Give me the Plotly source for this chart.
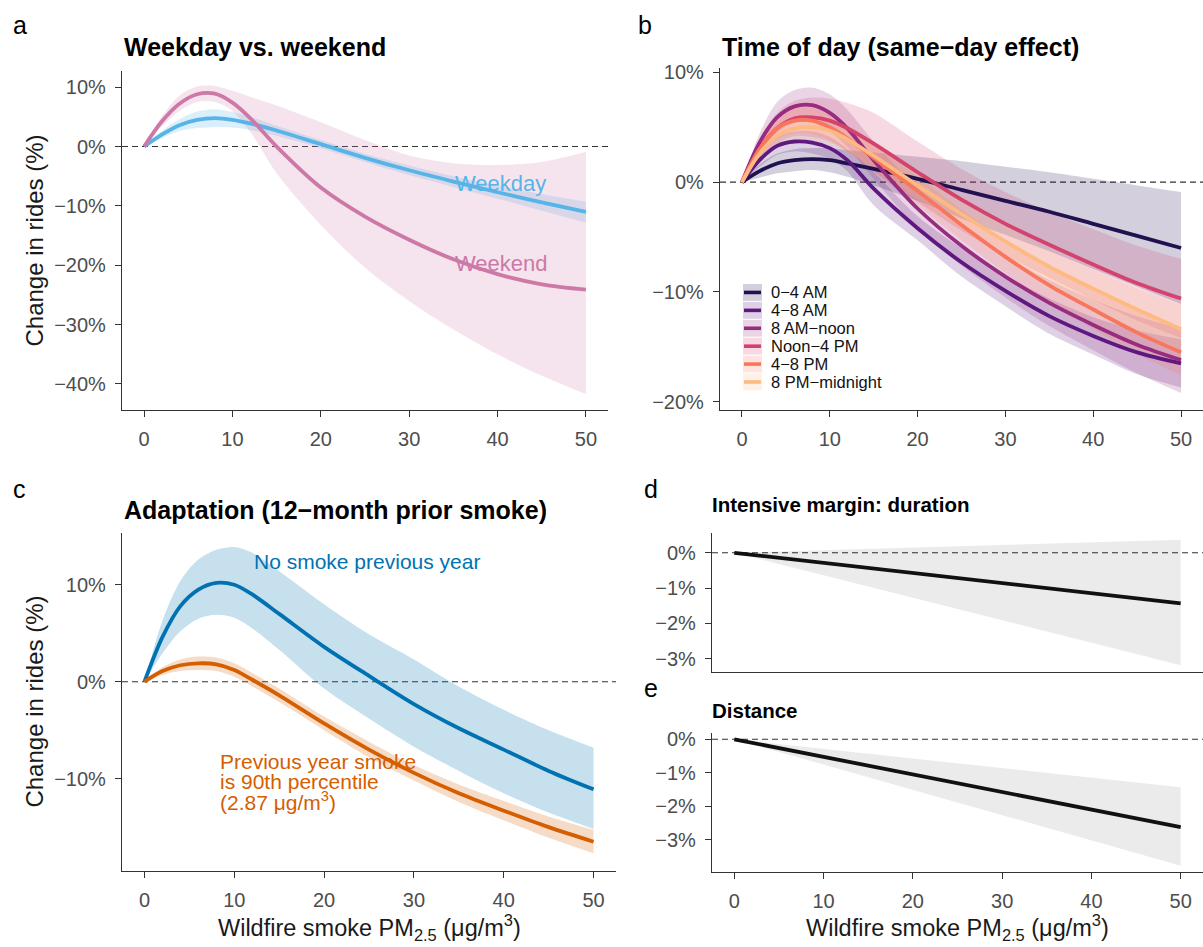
import plotly.graph_objects as go

W, H = 1203, 947
FONT = "Liberation Sans, Arial, Helvetica, sans-serif"

# ---------------- data ----------------
X = [0, 2, 4, 6, 8, 10, 12, 15, 20, 25, 30, 35, 40, 45, 50]

# Panel a: weekday vs weekend
weekday_fit = [0, 2.0, 3.6, 4.5, 4.8, 4.5, 3.9, 2.7, 0.4, -1.9, -4.0, -5.9, -7.7, -9.4, -11.0]
weekday_hi = [0, 2.6, 4.6, 5.9, 6.3, 5.8, 5.0, 3.5, 1.1, -1.2, -3.2, -5.0, -6.6, -8.0, -9.3]
weekday_lo = [0, 1.4, 2.6, 3.1, 3.3, 3.2, 2.8, 1.8, -0.3, -2.6, -4.8, -6.8, -8.8, -10.8, -12.8]
weekend_fit = [0, 4.2, 7.2, 8.8, 8.9, 7.4, 4.8, 0.0, -6.9, -11.8, -15.7, -19.0, -21.5, -23.2, -24.1]
weekend_hi = [0, 5.0, 8.6, 10.1, 10.2, 9.4, 8.4, 6.9, 4.1, 1.1, -1.5, -2.8, -3.1, -2.6, -0.9]
weekend_lo = [0, 3.4, 6.0, 7.5, 7.5, 6.0, 2.5, -4.5, -13.2, -20.4, -26.0, -30.8, -35.0, -38.6, -41.7]

# Panel b: time of day
tod_names = ["0\u22124 AM", "4\u22128 AM", "8 AM\u2212noon", "Noon\u22124 PM", "4\u22128 PM", "8 PM\u2212midnight"]
tod_colors = ["#221150", "#5F187F", "#982D80", "#D3436E", "#F8765C", "#FEBA80"]
tod_fit = [
    [0, 1.0, 1.7, 2.0, 2.1, 2.0, 1.7, 1.2, 0.3, -0.7, -1.7, -2.7, -3.8, -4.9, -6.0],
    [0, 2.0, 3.3, 3.7, 3.6, 3.1, 2.0, -0.6, -4.2, -7.3, -9.9, -12.2, -14.0, -15.5, -16.5],
    [0, 3.6, 5.9, 6.9, 7.0, 6.3, 4.9, 2.0, -2.4, -5.8, -8.6, -11.0, -13.0, -14.8, -16.2],
    [0, 3.0, 4.9, 5.8, 5.9, 5.6, 4.9, 3.5, 0.9, -1.6, -3.8, -5.7, -7.5, -9.2, -10.6],
    [0, 3.0, 4.9, 5.6, 5.6, 5.0, 4.0, 2.2, -0.8, -3.9, -6.8, -9.4, -11.6, -13.7, -15.5],
    [0, 2.6, 4.2, 4.9, 5.0, 4.7, 3.9, 2.4, -0.3, -2.9, -5.4, -7.7, -9.7, -11.6, -13.4],
]
tod_hi = [
    [0, 1.6, 2.6, 3.0, 3.1, 3.1, 2.9, 2.7, 2.3, 1.9, 1.4, 0.9, 0.3, -0.3, -0.9],
    [0, 2.6, 4.1, 4.6, 4.6, 4.1, 3.0, 0.9, -3.1, -6.0, -8.5, -10.6, -12.3, -13.5, -14.3],
    [0, 4.4, 7.3, 8.4, 8.6, 8.0, 6.6, 3.7, -0.6, -4.0, -6.7, -8.9, -10.7, -12.2, -13.3],
    [0, 3.9, 6.3, 7.4, 7.7, 7.6, 7.2, 6.3, 3.7, 1.2, -0.9, -2.7, -4.3, -5.8, -7.0],
    [0, 3.6, 5.9, 6.7, 6.8, 6.2, 5.2, 3.4, 0.5, -2.5, -5.3, -7.7, -9.8, -11.7, -13.4],
    [0, 3.2, 5.2, 6.0, 6.2, 5.9, 5.1, 3.6, 0.9, -1.6, -4.0, -6.2, -8.0, -9.7, -11.2],
]
tod_lo = [
    [0, 0.4, 0.8, 1.0, 1.1, 0.9, 0.5, -0.3, -1.7, -3.3, -4.8, -6.3, -7.9, -9.5, -11.1],
    [0, 1.4, 2.5, 2.8, 2.6, 2.1, 1.0, -2.1, -5.3, -8.6, -11.3, -13.8, -15.7, -17.5, -18.7],
    [0, 2.8, 4.5, 5.4, 5.4, 4.6, 3.2, 0.3, -4.2, -7.6, -10.5, -13.1, -15.3, -17.4, -19.2],
    [0, 2.1, 3.5, 4.2, 4.1, 3.7, 2.8, 1.0, -1.8, -4.4, -6.7, -8.7, -10.7, -12.6, -14.2],
    [0, 2.4, 3.9, 4.5, 4.4, 3.8, 2.8, 1.0, -2.1, -5.3, -8.3, -11.1, -13.4, -15.7, -17.6],
    [0, 2.0, 3.2, 3.8, 3.8, 3.5, 2.7, 1.2, -1.5, -4.2, -6.8, -9.2, -11.4, -13.5, -15.6],
]

# Panel c: adaptation
nosmoke_fit = [0, 4.6, 7.8, 9.5, 10.2, 10.0, 9.0, 7.0, 3.6, 0.6, -2.3, -4.8, -7.0, -9.2, -11.1]
nosmoke_hi = [0, 6.3, 10.4, 12.6, 13.6, 13.9, 13.3, 11.4, 8.0, 4.9, 2.3, -0.5, -2.9, -5.0, -6.8]
nosmoke_lo = [0, 2.9, 5.2, 6.5, 6.9, 6.6, 5.5, 3.3, -0.7, -3.8, -6.7, -9.2, -11.5, -13.5, -15.2]
p90_fit = [0, 1.1, 1.7, 1.9, 1.8, 1.2, 0.2, -1.4, -4.3, -7.0, -9.4, -11.5, -13.3, -15.0, -16.5]
p90_hi = [0, 1.5, 2.3, 2.6, 2.5, 1.9, 0.9, -0.7, -3.6, -6.2, -8.6, -10.6, -12.3, -13.9, -15.3]
p90_lo = [0, 0.7, 1.1, 1.2, 1.1, 0.5, -0.5, -2.1, -5.0, -7.8, -10.2, -12.4, -14.3, -16.1, -17.7]

# Panels d, e: intensive margins (linear)
X_LIN = [0, 50]
duration_fit = [0, -1.43]
duration_hi = [0, 0.37]
duration_lo = [0, -3.18]
distance_fit = [0, -2.62]
distance_hi = [0, -1.43]
distance_lo = [0, -3.77]

X_TICKS = [0, 10, 20, 30, 40, 50]
Y_TICKS_A = [-40, -30, -20, -10, 0, 10]
Y_TICKS_B = [-20, -10, 0, 10]
Y_TICKS_C = [-10, 0, 10]
Y_TICKS_DE = [-3, -2, -1, 0]

# ---------------- helpers ----------------
def pxx(v):
    return v / W

def pxy(v):
    return 1 - v / H

def rgba(hexc, a):
    hexc = hexc.lstrip("#")
    r, g, b = int(hexc[0:2], 16), int(hexc[2:4], 16), int(hexc[4:6], 16)
    return f"rgba({r},{g},{b},{a})"

def pct(v):
    return ("\u2212" if v < 0 else "") + f"{abs(v):g}%"

fig = go.Figure()

def band(ax, xs, lo, hi, fill):
    xa, ya = ax
    fig.add_trace(go.Scatter(x=xs, y=lo, mode="lines", line=dict(width=0, shape="spline", smoothing=0.9),
                             xaxis=xa, yaxis=ya, showlegend=False, hoverinfo="skip"))
    fig.add_trace(go.Scatter(x=xs, y=hi, mode="lines", line=dict(width=0, shape="spline", smoothing=0.9),
                             fill="tonexty", fillcolor=fill,
                             xaxis=xa, yaxis=ya, showlegend=False, hoverinfo="skip"))

def curve(ax, xs, ys, color, name, width=3.8):
    xa, ya = ax
    fig.add_trace(go.Scatter(x=xs, y=ys, mode="lines", name=name,
                             line=dict(width=width, color=color, shape="spline", smoothing=0.9),
                             xaxis=xa, yaxis=ya, showlegend=False))

A = ("x", "y")
B = ("x2", "y2")
C = ("x3", "y3")
D = ("x4", "y4")
E = ("x5", "y5")

# panel a
band(A, X, weekday_lo, weekday_hi, rgba("#56B4E9", 0.22))
band(A, X, weekend_lo, weekend_hi, rgba("#CC79A7", 0.2))
curve(A, X, weekday_fit, "#56B4E9", "Weekday")
curve(A, X, weekend_fit, "#CC79A7", "Weekend")

# panel b
for lo, hi, col in zip(tod_lo, tod_hi, tod_colors):
    band(B, X, lo, hi, rgba(col, 0.2))
for fit, col, nm in zip(tod_fit, tod_colors, tod_names):
    curve(B, X, fit, col, nm)

# panel c
band(C, X, nosmoke_lo, nosmoke_hi, rgba("#0072B2", 0.22))
band(C, X, p90_lo, p90_hi, rgba("#D55E00", 0.22))
curve(C, X, nosmoke_fit, "#0072B2", "No smoke previous year")
curve(C, X, p90_fit, "#D55E00", "Previous year smoke 90th pct")

# panels d, e
band(D, X_LIN, duration_lo, duration_hi, "rgba(0,0,0,0.08)")
curve(D, X_LIN, duration_fit, "#111111", "Duration")
band(E, X_LIN, distance_lo, distance_hi, "rgba(0,0,0,0.08)")
curve(E, X_LIN, distance_fit, "#111111", "Distance")

# ---------------- axes ----------------
def xax(dom, anchor, labels=True):
    return dict(domain=dom, anchor=anchor, range=[-2.5, 52.5], tickvals=X_TICKS,
                ticktext=[str(v) for v in X_TICKS], showticklabels=labels,
                ticks="outside" if labels else "", ticklen=6, tickwidth=1.3, tickcolor="#333333",
                showline=True, linecolor="#333333", linewidth=1.3, showgrid=False, zeroline=False,
                tickfont=dict(family=FONT, size=20, color="#4D4D4D"), ticklabelstandoff=5, fixedrange=True)

def yax(dom, anchor, rng, ticks):
    return dict(domain=dom, anchor=anchor, range=rng, tickvals=ticks, ticktext=[pct(v) for v in ticks],
                ticks="outside", ticklen=6, tickwidth=1.3, tickcolor="#333333",
                showline=True, linecolor="#333333", linewidth=1.3, showgrid=False, zeroline=False,
                tickfont=dict(family=FONT, size=20, color="#4D4D4D"), ticklabelstandoff=5, fixedrange=True)

fig.update_layout(
    xaxis=xax([pxx(122), pxx(608)], "y"),
    yaxis=yax([pxy(407), pxy(65)], "x", [-44.33, 12.67], Y_TICKS_A),
    xaxis2=xax([pxx(720), 1.0], "y2"),
    yaxis2=yax([pxy(407), pxy(62)], "x2", [-20.72, 10.36], Y_TICKS_B),
    xaxis3=xax([pxx(122), pxx(616)], "y3"),
    yaxis3=yax([pxy(873), pxy(532)], "x3", [-19.5, 15.3], Y_TICKS_C),
    xaxis4=xax([pxx(712), 1.0], "y4", labels=False),
    yaxis4=yax([pxy(672), pxy(532)], "x4", [-3.37, 0.55], Y_TICKS_DE),
    xaxis5=xax([pxx(712), 1.0], "y5"),
    yaxis5=yax([pxy(874), pxy(734)], "x5", [-3.95, 0.18], Y_TICKS_DE),
)

# dashed zero lines
shapes = []
for xa, ya in [A, B, C, D, E]:
    shapes.append(dict(type="line", xref=f"{xa} domain", yref=ya, x0=0, x1=1, y0=0, y1=0,
                       line=dict(color="#333333", width=1.1, dash="6px,4px"), layer="below"))

annotations = []

def text(x, y, s, size, color="#000000", xanchor="left", xref="paper", yref="paper", angle=0,
         yanchor="middle"):
    annotations.append(dict(x=x, y=y, text=s, xref=xref, yref=yref, showarrow=False, xanchor=xanchor,
                            yanchor=yanchor, textangle=angle, font=dict(family=FONT, size=size, color=color)))

# panel letters
text(pxx(11), pxy(18), "a", 25)
text(pxx(636), pxy(18), "b", 25)
text(pxx(11), pxy(487), "c", 25)
text(pxx(642), pxy(487), "d", 25)
text(pxx(642), pxy(688), "e", 25)

# titles
text(pxx(122), pxy(40), "<b>Weekday vs. weekend</b>", 25)
text(pxx(720), pxy(40), "<b>Time of day (same\u2212day effect)</b>", 25)
text(pxx(122), pxy(508), "<b>Adaptation (12\u2212month prior smoke)</b>", 25)
text(pxx(710), pxy(503), "<b>Intensive margin: duration</b>", 20.5)
text(pxx(710), pxy(711), "<b>Distance</b>", 20.5)

# axis titles
YT = "Change in rides (%)"
XT = "Wildfire smoke PM<sub>2.5</sub> (\u03bcg/m<sup>3</sup>)"
text(pxx(35), pxy(236), YT, 24, "#1A1A1A", xanchor="center", angle=-90)
text(pxx(35), pxy(702), YT, 24, "#1A1A1A", xanchor="center", angle=-90)
text(pxx(369), pxy(930), XT, 23.5, "#1A1A1A", xanchor="center")
text(pxx(957), pxy(930), XT, 23.5, "#1A1A1A", xanchor="center")

# in-plot labels
text(35.0, -6.2, "Weekday", 22, "#56B4E9", xref="x", yref="y")
text(35.0, -19.7, "Weekend", 22, "#CC79A7", xref="x", yref="y")
text(12.0, 12.4, "No smoke previous year", 21, "#0072B2", xref="x3", yref="y3")
p90_lines = ["Previous year smoke", "is 90th percentile", "(2.87 \u03bcg/m<sup>3</sup>)"]
p90_ys = [-8.27, -10.3, -12.35]
for s, yv in zip(p90_lines, p90_ys):
    text(8.2, yv, s, 21, "#D55E00", xref="x3", yref="y3")

# manual legend for panel b
for i, (nm, col) in enumerate(zip(tod_names, tod_colors)):
    yc = 288.5 + i * 18.1
    shapes.append(dict(type="rect", xref="paper", yref="paper", x0=pxx(743), x1=pxx(762),
                       y0=pxy(yc + 8.5), y1=pxy(yc - 8.5), fillcolor=rgba(col, 0.2), line=dict(width=0)))
    shapes.append(dict(type="line", xref="paper", yref="paper", x0=pxx(744), x1=pxx(761),
                       y0=pxy(yc), y1=pxy(yc), line=dict(color=col, width=3.6)))
    text(pxx(769), pxy(yc), nm, 16.5, "#111111")

fig.update_layout(
    width=W, height=H, margin=dict(l=0, r=0, t=0, b=0),
    paper_bgcolor="white", plot_bgcolor="white",
    showlegend=False, shapes=shapes, annotations=annotations,
    font=dict(family=FONT),
)

fig.write_html("out.html")
